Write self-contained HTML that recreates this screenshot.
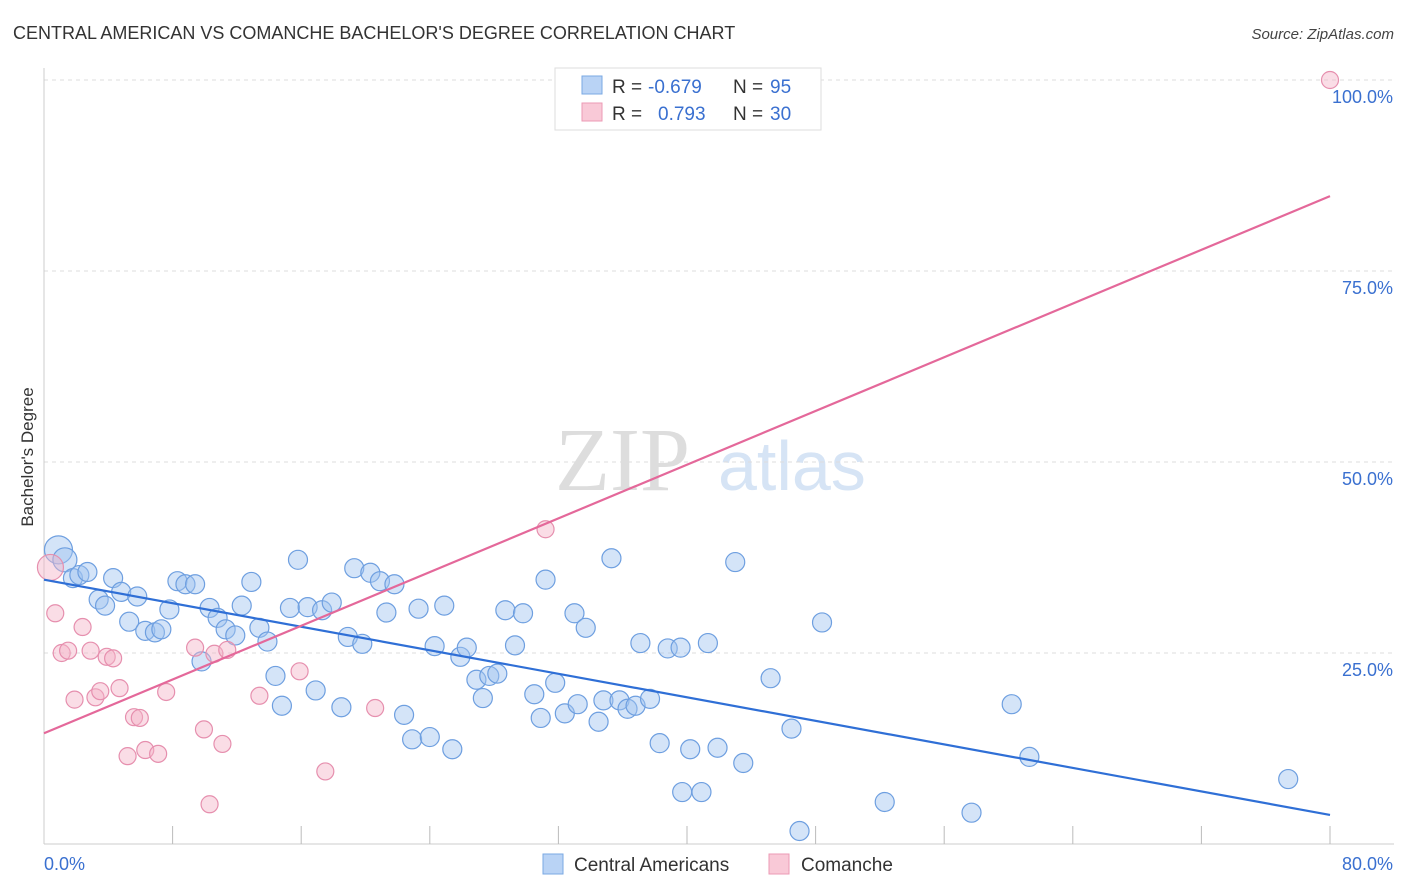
<!DOCTYPE html>
<html><head><meta charset="utf-8">
<style>
body{margin:0;background:#fff;font-family:"Liberation Sans",sans-serif;}
svg{display:block}
</style></head>
<body>
<svg id="chart" width="1406" height="892" xmlns="http://www.w3.org/2000/svg">
<text x="13" y="39" font-size="18" fill="#333">CENTRAL AMERICAN VS COMANCHE BACHELOR'S DEGREE CORRELATION CHART</text>
<text x="1394" y="39" font-size="15" fill="#444" text-anchor="end" font-style="italic">Source: ZipAtlas.com</text>
<text x="555" y="490" font-size="90" fill="#ddd" font-family="Liberation Serif">ZIP</text>
<text x="718" y="490" font-size="70" fill="#d6e4f5">atlas</text>
<g id="grid"></g>
<g id="axes"></g>
<text transform="translate(33,457) rotate(-90)" font-size="17" fill="#333" text-anchor="middle">Bachelor's Degree</text>
<g id="marks"></g>
<g>
<rect x="555" y="68" width="266" height="62" fill="#fff" stroke="#ddd"/>
<rect x="582" y="76" width="20" height="18" fill="#b9d3f5" stroke="#7aa8e3"/>
<text x="612" y="93" font-size="19" fill="#333">R =</text>
<text x="648" y="93" font-size="19" fill="#3a70d0">-0.679</text>
<text x="733" y="93" font-size="19" fill="#333">N =</text>
<text x="770" y="93" font-size="19" fill="#3a70d0">95</text>
<rect x="582" y="103" width="20" height="18" fill="#f9c9d7" stroke="#ec9ab4"/>
<text x="612" y="120" font-size="19" fill="#333">R =</text>
<text x="658" y="120" font-size="19" fill="#3a70d0">0.793</text>
<text x="733" y="120" font-size="19" fill="#333">N =</text>
<text x="770" y="120" font-size="19" fill="#3a70d0">30</text>
</g>
<g>
<rect x="543" y="854" width="20" height="20" fill="#b9d3f5" stroke="#7aa8e3"/>
<text x="574" y="871" font-size="19" fill="#333">Central Americans</text>
<rect x="769" y="854" width="20" height="20" fill="#f9c9d7" stroke="#ec9ab4"/>
<text x="801" y="871" font-size="19" fill="#333">Comanche</text>
</g>
</svg>
<script>
const blueX=[0.9,1.3,1.8,2.2,2.7,3.4,3.8,4.3,4.8,5.3,5.8,6.3,6.9,7.3,7.8,8.3,8.8,9.4,9.8,10.3,10.8,11.3,11.9,12.3,12.9,13.4,13.9,14.4,14.8,15.3,15.8,16.4,16.9,17.3,17.9,18.5,18.9,19.3,19.8,20.3,20.9,21.3,21.8,22.4,22.9,23.3,24.0,24.3,24.9,25.4,25.9,26.3,26.9,27.3,27.7,28.2,28.7,29.3,29.8,30.5,30.9,31.2,31.8,32.4,33.0,33.2,33.7,34.5,34.8,35.3,35.8,36.3,36.8,37.1,37.7,38.3,38.8,39.6,39.7,40.2,40.9,41.3,41.9,43.0,43.5,45.2,46.5,47.0,48.4,52.3,57.7,60.2,61.3,77.4];
const blueY=[38.5,37.2,34.8,35.2,35.6,32.0,31.2,34.8,33.0,29.1,32.4,27.9,27.7,28.1,30.7,34.4,34.0,34.0,23.9,30.9,29.6,28.1,27.3,31.2,34.3,28.3,26.5,22.0,18.1,30.9,37.2,31.0,20.1,30.6,31.6,17.9,27.1,36.1,26.2,35.5,34.4,30.3,34.0,16.9,13.7,30.8,14.0,25.9,31.2,12.4,24.5,25.7,21.5,19.1,22.0,22.3,30.6,26.0,30.2,19.6,16.5,34.6,21.1,17.1,30.2,18.3,28.3,16.0,18.8,37.4,18.8,17.7,18.1,26.3,19.0,13.2,25.6,25.7,6.8,12.4,6.8,26.3,12.6,36.9,10.6,21.7,15.1,1.7,29.0,5.5,4.1,18.3,11.4,8.5];
const pinkX=[0.4,0.7,1.1,1.5,1.9,2.4,2.9,3.2,3.5,3.9,4.3,4.7,5.2,5.6,5.96,6.3,7.1,7.6,9.4,9.95,10.3,10.6,11.1,11.4,13.4,15.9,17.5,20.6,31.2,80.0];
const pinkY=[36.2,30.2,25.0,25.3,18.9,28.4,25.3,19.2,20.0,24.5,24.3,20.4,11.5,16.6,16.5,12.3,11.8,19.9,25.7,15.0,5.2,24.9,13.1,25.4,19.4,22.6,9.5,17.8,41.2,100];
const blueLine=[34.6,3.8], pinkLine=[14.5,84.8];
const xTicks=[0,80], yTicks=[25,50,75,100];
const sx=v=>44+v*16.075, sy=v=>844-v*7.64;
const NS="http://www.w3.org/2000/svg";
function mk(tag,attrs,parent){const e=document.createElementNS(NS,tag);for(const k in attrs)e.setAttribute(k,attrs[k]);parent.appendChild(e);return e;}
const grid=document.getElementById('grid'),axes=document.getElementById('axes'),marks=document.getElementById('marks');
yTicks.forEach(t=>{
 const l=mk('line',{x1:44,x2:1394,y1:sy(t),y2:sy(t),stroke:'#ddd','stroke-dasharray':'4,4'},grid);
 
 
 const tx=mk('text',{x:1393,y:sy(t)+23,'font-size':18,fill:'#3a70d0','text-anchor':'end'},axes);
 tx.textContent=t.toFixed(1)+'%';
 
 
});
mk('line',{x1:44,x2:44,y1:68,y2:844,stroke:'#ccc'},axes);
mk('line',{x1:44,x2:1394,y1:844,y2:844,stroke:'#ccc'},axes);
for(let i=1;i<=10;i++){mk('line',{x1:sx(i*8),x2:sx(i*8),y1:826,y2:844,stroke:'#bbb'},axes);}
xTicks.forEach((t,i)=>{
 const tx=mk('text',{x:i?1393:44,y:870,'font-size':18,fill:'#3a70d0','text-anchor':i?'end':'start'},axes);
 tx.textContent=t.toFixed(1)+'%';
 
 
});
blueX.forEach((x,i)=>{
 const c=mk('circle',{cx:sx(x),cy:sy(blueY[i]),r:i<2?(i?12:14):9.5,fill:'rgba(160,195,240,0.45)',stroke:'#6e9fe0','stroke-width':1.2},marks);
 
 
});
pinkX.forEach((x,i)=>{
 const c=mk('circle',{cx:sx(x),cy:sy(pinkY[i]),r:i?8.5:13,fill:'rgba(245,180,200,0.45)',stroke:'#e68fae','stroke-width':1.2},marks);
 
 
});
const bl=mk('line',{x1:sx(0),y1:sy(blueLine[0]),x2:sx(80),y2:sy(blueLine[1]),stroke:'#2f6fd6','stroke-width':2.2},marks);


const pl=mk('line',{x1:sx(0),y1:sy(pinkLine[0]),x2:sx(80),y2:sy(pinkLine[1]),stroke:'#e4689a','stroke-width':2.2},marks);


</script>
</body></html>
